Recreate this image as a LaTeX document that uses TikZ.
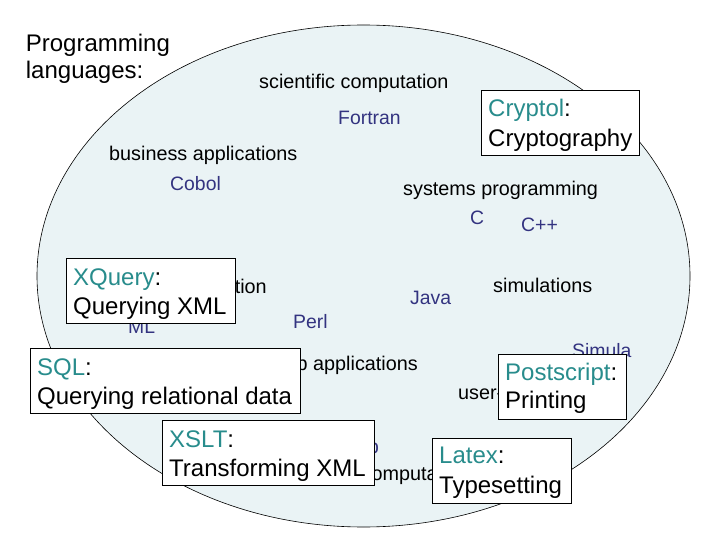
\documentclass[tikz,border=0pt]{standalone}
\usepackage{fontspec}
\setmainfont{Liberation Sans}
\usetikzlibrary{shapes.geometric}
\definecolor{ellfill}{RGB}{234,243,245}
\definecolor{langblue}{RGB}{51,51,128}
\definecolor{dslteal}{RGB}{40,140,140}
\begin{document}
\begin{tikzpicture}[x=1pt,y=-1pt,
  small/.style={inner sep=0pt,anchor=base west,font=\fontsize{19.8}{22}\selectfont},
  lang/.style={inner sep=0pt,anchor=base west,font=\fontsize{19.4}{22}\selectfont,text=langblue},
  big/.style={inner sep=0pt,anchor=base west,font=\fontsize{24}{29}\selectfont},
  dslbox/.style={draw=black,line width=0.8pt,fill=white,inner sep=0pt,anchor=north west}]
\useasboundingbox (0,0) rectangle (720,540);
\fill[white] (0,0) rectangle (720,540);
% universe of languages
\node[draw=black,line width=0.6pt,fill=ellfill,ellipse,minimum width=653pt,minimum height=502pt,inner sep=0pt] (univ) at (363.5,276) {};
\node[big] (prog1) at (25.7,52) {Programming};
\node[big] (prog2) at (25.7,79) {languages:};
% domains and general purpose languages
\node[small] (sci) at (259,89) {scientific computation};
\node[lang] (fortran) at (338,125) {Fortran};
\node[small] (bus) at (109,161) {business applications};
\node[lang] (cobol) at (170,191) {Cobol};
\node[small] (sys) at (403,196) {systems programming};
\node[lang] (clang) at (470,225) {C};
\node[lang] (cpp) at (521,231) {C++};
\node[small,anchor=base east] (verif) at (267,293) {program verification};
\node[lang] (ml) at (128,333) {ML};
\node[lang] (perl) at (293,328) {Perl};
\node[lang] (java) at (410,304) {Java};
\node[small] (simul) at (493,292) {simulations};
\node[lang] (simula) at (572,357) {Simula};
\node[small,anchor=base east] (web) at (418,370) {web applications};
\node[small] (user) at (458,399) {user-interfaces};
\node[lang,anchor=base east] (lisp) at (379,453) {Lisp};
\node[small] (symb) at (279,480) {symbolic computation};
% domain specific languages
\node[dslbox,minimum width=158pt,minimum height=65pt] (cryptbox) at (481,90) {};
\node[big] (cryptA) at (488,117) {\textcolor{dslteal}{Cryptol}:};
\node[big] (cryptB) at (488,147) {Cryptography};
\node[dslbox,minimum width=169pt,minimum height=65pt] (xqbox) at (66,258) {};
\node[big] (xqA) at (73,285) {\textcolor{dslteal}{XQuery}:};
\node[big] (xqB) at (73,314) {Querying XML};
\node[dslbox,minimum width=270pt,minimum height=65pt] (sqlbox) at (30,348) {};
\node[big] (sqlA) at (37,375) {\textcolor{dslteal}{SQL}:};
\node[big] (sqlB) at (37,404) {Querying relational data};
\node[dslbox,minimum width=128pt,minimum height=65pt] (psbox) at (498,354) {};
\node[big] (psA) at (505,380) {\textcolor{dslteal}{Postscript}:};
\node[big] (psB) at (505,408) {Printing};
\node[dslbox,minimum width=212pt,minimum height=65pt] (xsltbox) at (162,420) {};
\node[big] (xsltA) at (169,447) {\textcolor{dslteal}{XSLT}:};
\node[big] (xsltB) at (169,476) {Transforming XML};
\node[dslbox,minimum width=139pt,minimum height=65pt] (texbox) at (432,438) {};
\node[big] (texA) at (439,463) {\textcolor{dslteal}{Latex}:};
\node[big] (texB) at (439,493) {Typesetting};
\end{tikzpicture}
\end{document}
